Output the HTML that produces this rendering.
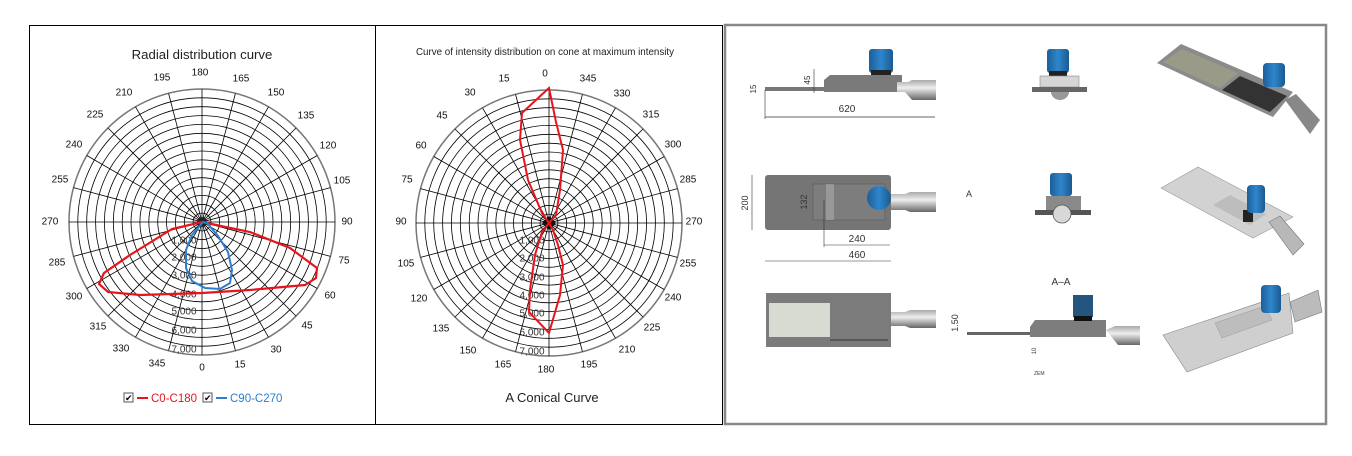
<!DOCTYPE html>
<html><head><meta charset="utf-8"><style>
html,body{margin:0;padding:0;background:#fff;width:1352px;height:456px;overflow:hidden}
svg{display:block;font-family:"Liberation Sans",sans-serif}
</style></head><body>
<svg width="1352" height="456" viewBox="0 0 1352 456" xmlns="http://www.w3.org/2000/svg">
<rect x="0" y="0" width="1352" height="456" fill="#fff"/>
<rect x="29.5" y="25.5" width="346" height="399" fill="none" stroke="#000" stroke-width="1"/>
<rect x="375.5" y="25.5" width="347" height="399" fill="none" stroke="#000" stroke-width="1"/>
<rect x="725" y="25" width="601" height="399" fill="none" stroke="#888" stroke-width="2.5"/>

<text x="202" y="59" font-size="13.2" text-anchor="middle" fill="#222">Radial distribution curve</text>
<g fill="none" stroke="#000" stroke-width="0.8">
<circle cx="202" cy="222" r="8.9"/><circle cx="202" cy="222" r="17.7"/><circle cx="202" cy="222" r="26.6"/><circle cx="202" cy="222" r="35.5"/><circle cx="202" cy="222" r="44.3"/><circle cx="202" cy="222" r="53.2"/><circle cx="202" cy="222" r="62.1"/><circle cx="202" cy="222" r="71"/><circle cx="202" cy="222" r="79.8"/><circle cx="202" cy="222" r="88.7"/><circle cx="202" cy="222" r="97.6"/><circle cx="202" cy="222" r="106.4"/><circle cx="202" cy="222" r="115.3"/><circle cx="202" cy="222" r="124.2"/>
<circle cx="202" cy="222" r="133" stroke="#777" stroke-width="1.5"/>
<line x1="69" y1="222" x2="335" y2="222"/><line x1="202" y1="89" x2="202" y2="355"/>
<line x1="168.6" y1="93.5" x2="235.4" y2="350.5"/><line x1="235.4" y1="93.5" x2="168.6" y2="350.5"/>
<line x1="135.5" y1="106.8" x2="268.5" y2="337.2"/><line x1="268.5" y1="106.8" x2="135.5" y2="337.2"/>
<line x1="108" y1="128" x2="296" y2="316"/><line x1="296" y1="128" x2="108" y2="316"/>
<line x1="86.8" y1="155.5" x2="317.2" y2="288.5"/><line x1="317.2" y1="155.5" x2="86.8" y2="288.5"/>
<line x1="73.5" y1="187.6" x2="330.5" y2="256.4"/><line x1="330.5" y1="187.6" x2="73.5" y2="256.4"/>
</g>
<circle cx="202" cy="222" r="5" fill="#222"/>
<g font-size="10" text-anchor="middle" dominant-baseline="central" fill="#111">
<text x="202" y="368">0</text><text x="240" y="365">15</text><text x="276" y="350">30</text><text x="307" y="326">45</text><text x="330" y="296">60</text><text x="344" y="261">75</text><text x="347" y="222">90</text><text x="342" y="181">105</text><text x="328" y="146">120</text><text x="306" y="116">135</text><text x="276" y="93">150</text><text x="241" y="79">165</text><text x="200" y="73">180</text><text x="162" y="78">195</text><text x="124" y="93">210</text><text x="95" y="115">225</text><text x="74" y="145">240</text><text x="60" y="180">255</text><text x="50" y="222">270</text><text x="57" y="263">285</text><text x="74" y="297">300</text><text x="98" y="327">315</text><text x="121" y="349">330</text><text x="157" y="364">345</text>
</g>
<g font-size="10" fill="#333" text-anchor="middle" dominant-baseline="central">
<text x="184" y="241">1,000</text><text x="184" y="258">2,000</text><text x="184" y="276">3,000</text><text x="184" y="295">4,000</text><text x="184" y="312">5,000</text><text x="184" y="331">6,000</text><text x="184" y="350">7,000</text>
</g>
<polyline fill="none" stroke="#e8141c" stroke-width="2.2" points="202,222 250,232 290,248 317,268 316,278 305,285 250,290 202,293 140,295 108,292 99,284 104,273 130,255 172,229 202,222"/>
<polyline fill="none" stroke="#2a7fd0" stroke-width="2" points="203,222 192,235 186,250 186,268 192,281 205,288 220,289 230,283 232,270 228,252 218,236 207,223 203,222"/>
<g font-size="11">
<rect x="124" y="393" width="9" height="9" fill="#fff" stroke="#555"/><text x="125" y="401" font-size="9">✔</text>
<line x1="137" y1="398" x2="148" y2="398" stroke="#e8141c" stroke-width="2"/>
<text x="151" y="402" fill="#e8141c" font-size="11.5">C0-C180</text>
<rect x="203" y="393" width="9" height="9" fill="#fff" stroke="#555"/><text x="204" y="401" font-size="9">✔</text>
<line x1="216" y1="398" x2="227" y2="398" stroke="#2a7fd0" stroke-width="2"/>
<text x="230" y="402" fill="#2a7fd0" font-size="11.5">C90-C270</text>
</g>

<text x="545" y="55" font-size="9.8" text-anchor="middle" fill="#222">Curve of intensity distribution on cone at maximum intensity</text>
<g fill="none" stroke="#000" stroke-width="0.8">
<circle cx="549" cy="223" r="8.9"/><circle cx="549" cy="223" r="17.7"/><circle cx="549" cy="223" r="26.6"/><circle cx="549" cy="223" r="35.5"/><circle cx="549" cy="223" r="44.3"/><circle cx="549" cy="223" r="53.2"/><circle cx="549" cy="223" r="62.1"/><circle cx="549" cy="223" r="71"/><circle cx="549" cy="223" r="79.8"/><circle cx="549" cy="223" r="88.7"/><circle cx="549" cy="223" r="97.6"/><circle cx="549" cy="223" r="106.4"/><circle cx="549" cy="223" r="115.3"/><circle cx="549" cy="223" r="124.2"/>
<circle cx="549" cy="223" r="133" stroke="#777" stroke-width="1.5"/>
<line x1="416" y1="223" x2="682" y2="223"/><line x1="549" y1="90" x2="549" y2="356"/>
<line x1="515.6" y1="94.5" x2="582.4" y2="351.5"/><line x1="582.4" y1="94.5" x2="515.6" y2="351.5"/>
<line x1="482.5" y1="107.8" x2="615.5" y2="338.2"/><line x1="615.5" y1="107.8" x2="482.5" y2="338.2"/>
<line x1="455" y1="129" x2="643" y2="317"/><line x1="643" y1="129" x2="455" y2="317"/>
<line x1="433.8" y1="156.5" x2="664.2" y2="289.5"/><line x1="664.2" y1="156.5" x2="433.8" y2="289.5"/>
<line x1="420.5" y1="188.6" x2="677.5" y2="257.4"/><line x1="677.5" y1="188.6" x2="420.5" y2="257.4"/>
</g>
<rect x="544" y="218" width="10" height="10" fill="#111" transform="rotate(45 549 223)"/>
<g font-size="10" text-anchor="middle" dominant-baseline="central" fill="#111">
<text x="545" y="74">0</text><text x="504" y="79">15</text><text x="470" y="93">30</text><text x="442" y="116">45</text><text x="421" y="146">60</text><text x="407" y="180">75</text><text x="401" y="222">90</text><text x="406" y="264">105</text><text x="419" y="299">120</text><text x="441" y="329">135</text><text x="468" y="351">150</text><text x="503" y="365">165</text><text x="546" y="370">180</text><text x="589" y="365">195</text><text x="627" y="350">210</text><text x="652" y="328">225</text><text x="673" y="298">240</text><text x="688" y="264">255</text><text x="694" y="222">270</text><text x="688" y="180">285</text><text x="673" y="145">300</text><text x="651" y="115">315</text><text x="622" y="94">330</text><text x="588" y="79">345</text>
</g>
<g font-size="10" fill="#333" text-anchor="middle" dominant-baseline="central">
<text x="532" y="241">1,000</text><text x="532" y="259">2,000</text><text x="532" y="278">3,000</text><text x="532" y="296">4,000</text><text x="532" y="314">5,000</text><text x="532" y="333">6,000</text><text x="532" y="352">7,000</text>
</g>
<polyline fill="none" stroke="#e8141c" stroke-width="2" points="549,223 542,213 528,180 520,140 522,113 549,88 556,122 563,150 560,190 556,215 549,223 542,232 535,255 530,290 529,312 549,333 560,295 563,265 558,245 553,230 549,223"/>
<text x="552" y="402" font-size="13" text-anchor="middle" fill="#222">A Conical Curve</text>

<defs>
<linearGradient id="cap" x1="0" x2="1" y1="0" y2="0"><stop offset="0" stop-color="#1d5e98"/><stop offset="0.5" stop-color="#2f86cc"/><stop offset="1" stop-color="#1a5a92"/></linearGradient>
<linearGradient id="tube" x1="0" x2="0" y1="0" y2="1"><stop offset="0" stop-color="#aaa"/><stop offset="0.4" stop-color="#eee"/><stop offset="1" stop-color="#666"/></linearGradient>
</defs>
<g font-size="9" fill="#333">
<rect x="765" y="87" width="70" height="4" fill="#777"/>
<path d="M824,80 L830,75 L902,75 L902,92 L824,92 Z" fill="#7a7a7a"/>
<rect x="869" y="49" width="24" height="24" rx="3" fill="url(#cap)"/><rect x="871" y="70" width="20" height="5" fill="#222"/>
<path d="M897,82 L908,82 L912,80 L936,80 L936,100 L912,100 L905,92 L897,92Z" fill="url(#tube)"/>
<line x1="765" y1="117" x2="935" y2="117" stroke="#333" stroke-width="0.8"/>
<line x1="765" y1="90" x2="765" y2="119" stroke="#333" stroke-width="0.6"/>
<text x="847" y="112" text-anchor="middle" font-size="10">620</text>
<text x="756" y="89" font-size="8" transform="rotate(-90 756 89)" text-anchor="middle">15</text>
<text x="810" y="80" font-size="8" transform="rotate(-90 810 80)" text-anchor="middle">45</text>
<line x1="814" y1="69" x2="814" y2="93" stroke="#333" stroke-width="0.6"/>
<rect x="1047" y="49" width="22" height="24" rx="3" fill="url(#cap)"/><rect x="1049" y="71" width="18" height="5" fill="#222"/>
<rect x="1040" y="76" width="39" height="11" fill="#d6d6d6" stroke="#888" stroke-width="0.6"/>
<rect x="1032" y="87" width="55" height="5" fill="#666"/>
<path d="M1051,92 A9,8 0 0 0 1069,92 Z" fill="#999"/>
<polygon points="1157,63 1181,44 1293,92 1273,117" fill="#8b8b8b"/>
<polygon points="1163,62 1182,49 1238,73 1220,88" fill="#9a9a88"/>
<polygon points="1222,90 1240,76 1287,96 1270,112" fill="#333"/>
<rect x="1263" y="63" width="22" height="24" rx="4" fill="url(#cap)"/>
<polygon points="1285,100 1296,94 1320,120 1310,134" fill="#888"/>
<rect x="765" y="175" width="126" height="55" rx="3" fill="#757575"/>
<rect x="813" y="184" width="72" height="36" fill="#7d7d7d" stroke="#555" stroke-width="0.5"/>
<rect x="826" y="184" width="8" height="36" fill="#aaa" opacity="0.6"/>
<circle cx="879" cy="198" r="12" fill="url(#cap)"/>
<path d="M891,194 L905,194 L910,192 L936,192 L936,212 L910,212 L905,210 L891,210Z" fill="url(#tube)"/>
<line x1="824" y1="245" x2="890" y2="245" stroke="#333" stroke-width="0.6"/>
<line x1="765" y1="261" x2="891" y2="261" stroke="#333" stroke-width="0.6"/>
<line x1="824" y1="200" x2="824" y2="247" stroke="#333" stroke-width="0.6"/>
<text x="857" y="242" text-anchor="middle" font-size="10">240</text>
<text x="857" y="258" text-anchor="middle" font-size="10">460</text>
<text x="748" y="203" font-size="9" transform="rotate(-90 748 203)" text-anchor="middle">200</text>
<text x="807" y="202" font-size="9" transform="rotate(-90 807 202)" text-anchor="middle">132</text>
<line x1="752" y1="175" x2="752" y2="230" stroke="#333" stroke-width="0.6"/>
<text x="966" y="197" font-size="9">A</text>
<rect x="1050" y="173" width="22" height="23" rx="3" fill="url(#cap)"/>
<rect x="1046" y="196" width="35" height="14" fill="#8a8a8a"/>
<rect x="1035" y="210" width="56" height="5" fill="#555"/>
<circle cx="1062" cy="214" r="9" fill="#d8d8d8" stroke="#555" stroke-width="0.8"/>
<polygon points="1161,188 1198,167 1293,217 1253,238" fill="#d2d2d2" stroke="#999" stroke-width="0.6"/>
<polygon points="1213,205 1230,195 1266,214 1250,225" fill="#bdbdbd"/>
<rect x="1243" y="210" width="10" height="12" fill="#222"/>
<rect x="1247" y="185" width="18" height="28" rx="4" fill="url(#cap)"/>
<polygon points="1269,222 1280,216 1304,244 1293,255" fill="#b8b8b8" stroke="#777" stroke-width="0.6"/>
<rect x="766" y="293" width="125" height="54" fill="#7b7b7b"/>
<rect x="769" y="303" width="61" height="34" fill="#d8dbd2"/>
<line x1="830" y1="340" x2="888" y2="340" stroke="#333" stroke-width="1"/>
<path d="M891,312 L905,312 L910,310 L936,310 L936,328 L910,328 L905,326 L891,326Z" fill="url(#tube)"/>
<text x="1061" y="285" font-size="10" text-anchor="middle">A–A</text>
<rect x="967" y="332" width="67" height="3" fill="#666"/>
<path d="M1030,327 L1035,320 L1106,320 L1106,337 L1030,337Z" fill="#7d7d7d"/>
<rect x="1073" y="295" width="20" height="22" fill="#24557f"/><rect x="1074" y="316" width="18" height="5" fill="#111"/>
<path d="M1106,330 L1115,326 L1140,326 L1140,345 L1118,345 Z" fill="url(#tube)"/>
<text x="958" y="323" font-size="9" transform="rotate(-90 958 323)" text-anchor="middle">1.50</text>
<text x="1036" y="351" font-size="6" transform="rotate(-90 1036 351)" text-anchor="middle">10</text>
<text x="1034" y="375" font-size="5">ZEM</text>
<polygon points="1163,335 1289,293 1293,333 1187,372" fill="#cfcfcf" stroke="#888" stroke-width="0.6"/>
<polygon points="1215,323 1265,306 1272,320 1222,338" fill="#bdbdbd" stroke="#999" stroke-width="0.5"/>
<rect x="1261" y="285" width="20" height="28" rx="4" fill="url(#cap)"/>
<polygon points="1290,302 1318,290 1322,312 1295,322" fill="#bbb" stroke="#777" stroke-width="0.6"/>
</g>
</svg>
</body></html>
